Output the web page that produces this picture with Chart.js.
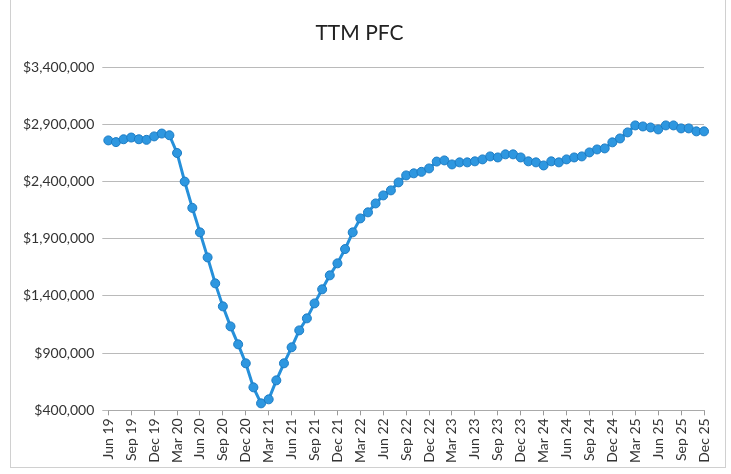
<!DOCTYPE html>
<html>
<head>
<meta charset="utf-8">
<script src="https://cdn.jsdelivr.net/npm/chart.js@4/dist/chart.umd.min.js"></script>
<style>
  html, body { margin: 0; padding: 0; background: #fff; }
  #wrap { position: relative; width: 731px; height: 474px; }
  #frame { position: absolute; left: 10px; top: -2px; width: 716px; height: 470px; border: 1px solid #d0d0d0; box-sizing: border-box; pointer-events: none; }
  canvas { display: block; }
</style>
</head>
<body>
<div id="wrap">
  <canvas id="c" width="731" height="474"></canvas>
  <div id="frame"></div>
</div>
<script>
const chartTitle = "TTM PFC";
// Monthly categories Jun 2019 .. Dec 2025
const categories = [
  "Jun 19","Jul 19","Aug 19","Sep 19","Oct 19","Nov 19","Dec 19",
  "Jan 20","Feb 20","Mar 20","Apr 20","May 20","Jun 20","Jul 20","Aug 20","Sep 20","Oct 20","Nov 20","Dec 20",
  "Jan 21","Feb 21","Mar 21","Apr 21","May 21","Jun 21","Jul 21","Aug 21","Sep 21","Oct 21","Nov 21","Dec 21",
  "Jan 22","Feb 22","Mar 22","Apr 22","May 22","Jun 22","Jul 22","Aug 22","Sep 22","Oct 22","Nov 22","Dec 22",
  "Jan 23","Feb 23","Mar 23","Apr 23","May 23","Jun 23","Jul 23","Aug 23","Sep 23","Oct 23","Nov 23","Dec 23",
  "Jan 24","Feb 24","Mar 24","Apr 24","May 24","Jun 24","Jul 24","Aug 24","Sep 24","Oct 24","Nov 24","Dec 24",
  "Jan 25","Feb 25","Mar 25","Apr 25","May 25","Jun 25","Jul 25","Aug 25","Sep 25","Oct 25","Nov 25","Dec 25"
];
const ttmPfc = [
  2760000, 2745000, 2770000, 2785000, 2770000, 2765000, 2795000,
  2820000, 2805000, 2650000, 2400000, 2170000, 1956000, 1737000, 1510000, 1309000, 1134000, 977000, 811000,
  601000, 461000, 496000, 662000, 811000, 951000, 1099000, 1204000, 1335000, 1458000, 1580000, 1685000,
  1810000, 1956000, 2078000, 2131000, 2209000, 2279000, 2323000, 2393000, 2454000, 2472000, 2485000, 2515000,
  2575000, 2585000, 2550000, 2568000, 2568000, 2577000, 2594000, 2620000, 2611000, 2638000, 2638000, 2611000,
  2577000, 2568000, 2541000, 2577000, 2568000, 2594000, 2611000, 2620000, 2655000, 2681000, 2690000, 2743000,
  2777000, 2830000, 2891000, 2882000, 2873000, 2856000, 2891000, 2891000, 2865000, 2865000, 2839000, 2839000
];
// Tick labels shown on the x axis (every third month)
const xTickLabels = ["Jun 19","Sep 19","Dec 19","Mar 20","Jun 20","Sep 20","Dec 20","Mar 21","Jun 21","Sep 21","Dec 21","Mar 22","Jun 22","Sep 22","Dec 22","Mar 23","Jun 23","Sep 23","Dec 23","Mar 24","Jun 24","Sep 24","Dec 24","Mar 25","Jun 25","Sep 25","Dec 25"];
const yMin = 400000, yMax = 3400000, yStep = 500000;

const fontFamily = "Lato, 'Liberation Sans', sans-serif";

new Chart(document.getElementById('c'), {
  type: 'line',
  data: {
    labels: categories,
    datasets: [{
      label: chartTitle,
      data: ttmPfc,
      borderColor: '#2690da',
      backgroundColor: '#2e97e0',
      pointBackgroundColor: '#2e97e0',
      pointBorderColor: '#1c7cc4',
      pointBorderWidth: 1,
      pointRadius: 4.5,
      borderWidth: 3,
      tension: 0
    }]
  },
  options: {
    responsive: false,
    animation: false,
    layout: { padding: { left: 15, right: 27, top: 16, bottom: 8 } },
    plugins: {
      legend: { display: false },
      tooltip: { enabled: false },
      title: {
        display: true,
        text: chartTitle,
        color: '#222',
        font: { family: fontFamily, size: 21, weight: 'normal' },
        padding: { top: 5, bottom: 21 }
      }
    },
    scales: {
      x: {
        type: 'category',
        offset: false,
        grid: { display: true, drawOnChartArea: false, drawTicks: true, tickLength: 5, color: '#999' },
        border: { display: true, color: '#aaa' },
        ticks: {
          autoSkip: false,
          minRotation: 90,
          maxRotation: 90,
          padding: 3,
          color: '#333',
          font: { family: fontFamily, size: 14 },
          callback: function(v, i) {
            const lab = categories[i];
            return xTickLabels.includes(lab) ? lab : null;
          }
        }
      },
      y: {
        min: yMin,
        max: yMax,
        grid: { color: '#bababa', drawTicks: true, tickLength: 6 },
        border: { display: false },
        ticks: {
          stepSize: yStep,
          padding: 8,
          color: '#333',
          font: { family: fontFamily, size: 14 },
          callback: v => '$' + v.toLocaleString('en-US')
        }
      }
    }
  }
});
</script>
</body>
</html>
